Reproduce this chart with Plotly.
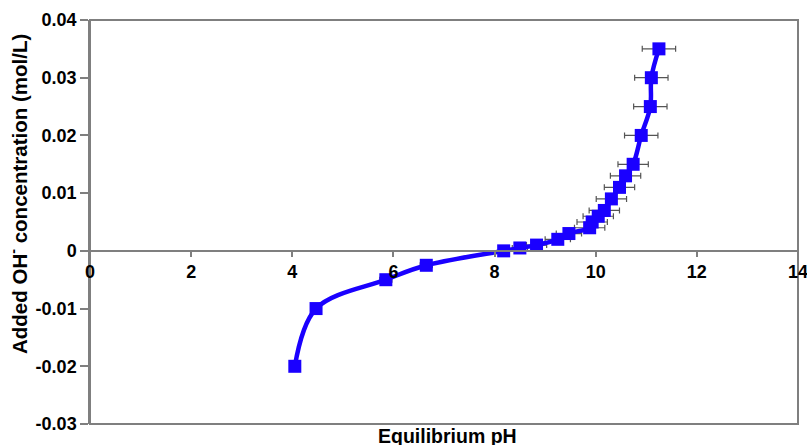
import plotly.graph_objects as go

# Data
ph = [4.05, 4.47, 5.85, 6.65, 8.18, 8.50, 8.83, 9.25, 9.47, 9.88, 9.93,
      10.05, 10.17, 10.31, 10.47, 10.59, 10.74, 10.90, 11.08, 11.10, 11.25]
oh_added = [-0.02, -0.01, -0.005, -0.0025, 0.0, 0.0005, 0.001, 0.002, 0.003, 0.004, 0.005,
            0.006, 0.007, 0.009, 0.011, 0.013, 0.015, 0.02, 0.025, 0.03, 0.035]
ph_err = [0.08, 0.1, 0.12, 0.12, 0.1, 0.15, 0.2, 0.25, 0.25, 0.3, 0.3,
          0.3, 0.3, 0.3, 0.3, 0.3, 0.3, 0.33, 0.33, 0.33, 0.33]

x_ticks = [0, 2, 4, 6, 8, 10, 12, 14]
y_ticks = [0.04, 0.03, 0.02, 0.01, 0, -0.01, -0.02, -0.03]
y_ticktext = ["0.04", "0.03", "0.02", "0.01", "0", "-0.01", "-0.02", "-0.03"]

FONT = "Liberation Sans, Arial, sans-serif"
BLUE = "#1a00ff"
GRAY = "#7f7f7f"

fig = go.Figure()
fig.add_trace(go.Scatter(
    x=ph, y=oh_added, mode="lines+markers",
    line=dict(color=BLUE, width=4.5, shape="spline", smoothing=1.0),
    marker=dict(symbol="square", size=13, color=BLUE),
    error_x=dict(type="data", array=ph_err, visible=True, color="#555555",
                 thickness=1.2, width=3),
    showlegend=False, hoverinfo="x+y",
))

ymin, ymax = -0.03, 0.04
fig.update_layout(
    width=807, height=445,
    margin=dict(l=90, r=9, t=20, b=21, autoexpand=False),
    paper_bgcolor="white", plot_bgcolor="white",
    font=dict(family=FONT, size=18, color="black"),
    xaxis=dict(range=[0, 14], tickvals=x_ticks, ticktext=[str(v) for v in x_ticks],
               showgrid=False, zeroline=False, showline=True, linecolor=GRAY, linewidth=1.5,
               ticks="outside", ticklen=5, tickcolor=GRAY, tickwidth=1.5,
               anchor="free", position=(0 - ymin) / (ymax - ymin),
               ticklabeloverflow="allow", automargin=False,
               tickfont=dict(family=FONT, size=18, color="black", weight="bold")),
    yaxis=dict(range=[ymin, ymax], tickvals=y_ticks, ticktext=y_ticktext,
               showgrid=False, zeroline=False, showline=True, linecolor=GRAY, linewidth=1.5,
               ticks="outside", ticklen=8, tickcolor=GRAY, tickwidth=1.5, automargin=False,
               tickfont=dict(family=FONT, size=18, color="black", weight="bold")),
    shapes=[dict(type="rect", xref="paper", yref="paper", x0=0, y0=0, x1=1, y1=1,
                 line=dict(color=GRAY, width=2), layer="below")],
    annotations=[
        dict(text="<b>Added OH<sup>-</sup> concentration (mol/L)</b>", xref="paper", yref="paper",
             x=(18 - 90) / 708, y=(424 - 194) / 404, textangle=-90, showarrow=False,
             xanchor="center", yanchor="middle", font=dict(family=FONT, size=20.5, color="black")),
        dict(text="<b>Equilibrium pH</b>", xref="paper", yref="paper",
             x=(448 - 90) / 708, y=(424 - 436) / 404, showarrow=False,
             xanchor="center", yanchor="middle", font=dict(family=FONT, size=19.5, color="black")),
    ],
)

fig.write_html("out.html")
